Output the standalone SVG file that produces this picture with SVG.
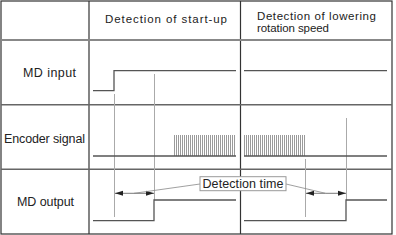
<svg xmlns="http://www.w3.org/2000/svg" width="396" height="235" viewBox="0 0 396 235">
<style>
.t{font-family:"Liberation Sans",Arial,sans-serif;fill:#222}
.grid{stroke:#333;stroke-width:1.2;fill:none}
.div{stroke:#666;stroke-width:1.5}
.sig{stroke:#555;stroke-width:1.3;fill:none}
.guide{stroke:#aaa;stroke-width:1;fill:none}
.arr{stroke:#555;stroke-width:0.8;fill:none}
.lead{stroke:#888;stroke-width:0.8;fill:none}
</style>
<defs>
<marker id="ah" viewBox="0 0 8 6" refX="8" refY="3" markerWidth="8" markerHeight="6" markerUnits="userSpaceOnUse" orient="auto-start-reverse">
<path d="M0,0.5 L8,3 L0,5.5 Z" fill="#222"/>
</marker>
<pattern id="pl" x="174" y="0" width="2" height="235" patternUnits="userSpaceOnUse">
<rect x="0" y="0" width="1" height="235" fill="#9a9a9a"/>
</pattern>
</defs>
<rect width="396" height="235" fill="#fff"/>
<g id="table">
<rect x="1" y="1" width="391" height="233" class="grid"/>
<line x1="89" y1="1" x2="89" y2="234" class="grid"/>
<line x1="240.5" y1="1" x2="240.5" y2="234" class="grid"/>
<line x1="1" y1="40" x2="392" y2="40" stroke="#888" stroke-width="2"/>
<line x1="1" y1="104.7" x2="392" y2="104.7" class="div"/>
<line x1="1" y1="169.3" x2="392" y2="169.3" class="div"/>
</g>
<g id="headers">
<text class="t" x="105" y="23.3" font-size="11.5" textLength="122" lengthAdjust="spacing">Detection of start-up</text>
<text class="t" x="257" y="20" font-size="11.5" textLength="119" lengthAdjust="spacing">Detection of lowering</text>
<text class="t" x="257" y="31.7" font-size="11.5" textLength="72" lengthAdjust="spacing">rotation speed</text>
</g>
<g id="row-labels">
<text class="t" x="23" y="77" font-size="12.5" textLength="53" lengthAdjust="spacing">MD input</text>
<text class="t" x="4" y="142.5" font-size="12.5" textLength="81" lengthAdjust="spacing">Encoder signal</text>
<text class="t" x="17" y="206" font-size="12.5" textLength="57" lengthAdjust="spacing">MD output</text>
</g>
<g id="guides">
<line x1="114.5" y1="94" x2="114.5" y2="217" class="guide"/>
<line x1="154.5" y1="74" x2="154.5" y2="200" class="guide"/>
<line x1="305.5" y1="159" x2="305.5" y2="217" class="guide"/>
<line x1="346.5" y1="118" x2="346.5" y2="200" class="guide"/>
</g>
<g id="md-input">
<polyline points="93,90.7 114,90.7 114,70.7 236,70.7" class="sig"/>
<line x1="244" y1="70.7" x2="387" y2="70.7" class="sig"/>
</g>
<g id="encoder-signal">
<rect x="174" y="135" width="62" height="21" fill="url(#pl)"/>
<rect x="244" y="135" width="62" height="21" fill="url(#pl)"/>
<line x1="93" y1="156" x2="236" y2="156" class="sig"/>
<line x1="244" y1="156" x2="387" y2="156" class="sig"/>
</g>
<g id="md-output">
<polyline points="93,220.7 154,220.7 154,200 236,200" class="sig"/>
<polyline points="244,220.7 346,220.7 346,200 387,200" class="sig"/>
</g>
<g id="connectors">
<line x1="134" y1="193.3" x2="115" y2="193.3" class="arr" marker-end="url(#ah)"/>
<line x1="134" y1="193.3" x2="154" y2="193.3" class="arr" marker-end="url(#ah)"/>
<line x1="325.5" y1="193.3" x2="306" y2="193.3" class="arr" marker-end="url(#ah)"/>
<line x1="325.5" y1="193.3" x2="346" y2="193.3" class="arr" marker-end="url(#ah)"/>
<line x1="200" y1="184" x2="134" y2="193.3" class="lead"/>
<line x1="286" y1="184" x2="325.5" y2="193.3" class="lead"/>
</g>
<g id="detection-time">
<rect x="200" y="176.7" width="86" height="14" fill="#fff" stroke="#999" stroke-width="1"/>
<text class="t" x="202.5" y="187.5" font-size="12.5" textLength="81" lengthAdjust="spacing">Detection time</text>
</g>
</svg>
